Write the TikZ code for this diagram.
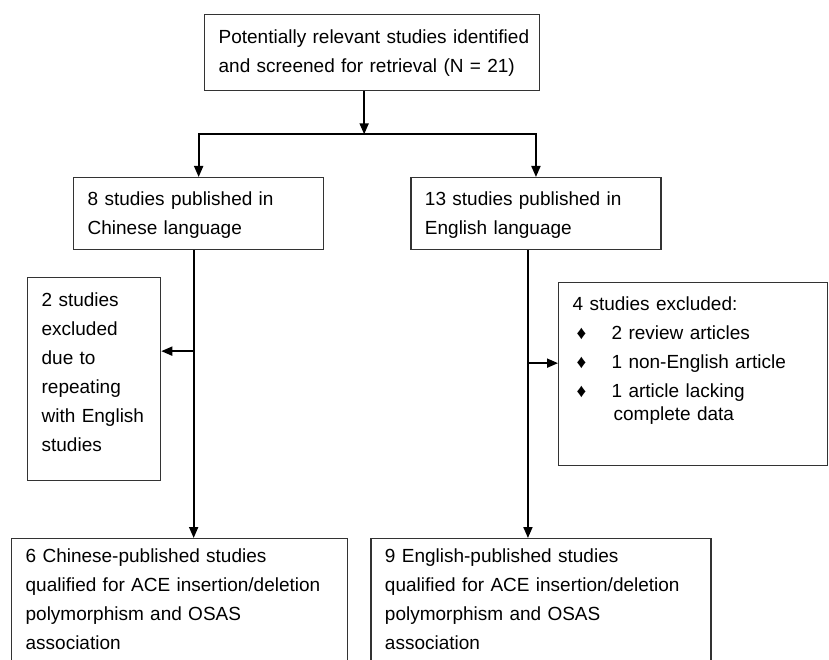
\documentclass[tikz,border=0pt]{standalone}
\usepackage{fontspec}
\setmainfont{Liberation Sans}
\usetikzlibrary{positioning,arrows.meta}
\tikzset{
  box/.style={draw=black!80, line width=1.3pt, align=left, inner xsep=14pt, inner ysep=0pt, font=\fontsize{19pt}{29pt}\selectfont, anchor=north west},
  stage box/.style={box, text width=222pt, text height=28pt, text depth=44pt},
  final box/.style={box, text height=24pt, text depth=130pt},
  exclusion box/.style={box},
  flow arrow/.style={-{Triangle[length=11pt,width=9pt]}, line width=1.8pt},
}

\begin{document}
\begin{tikzpicture}[x=1pt,y=-1pt]
\useasboundingbox (0,0) rectangle (829,660);
%the boxes
\node [box, text width=307pt, text height=29pt, text depth=47pt] at (204,14) (mA) {\mbox{Potentially relevant studies identified}\\and screened for retrieval (N = 21)};
\node [stage box] at (73,177) (mB) {8 studies published in\\Chinese language};
\node [stage box, right=86pt of mB] (mC) {13 studies published in\\English language};
\node [exclusion box, text width=105pt, text height=29pt, text depth=174pt] at (27,277) (mX1) {2 studies\\excluded\\due to\\repeating\\with English\\studies};
\node [exclusion box, text width=241pt, text height=28pt, text depth=155pt] at (558,282) (mX2) {4 studies excluded:\\
\hspace*{4pt}\makebox[35pt][l]{♦}2 review articles\\
\hspace*{4pt}\makebox[35pt][l]{♦}1 non-English article\\
\hspace*{4pt}\makebox[35pt][l]{♦}1 article lacking\\[-6pt]
\hspace*{41pt}complete data};
\node [final box, text width=308pt] at (11,538) (mD) {6 Chinese-published studies\\qualified for ACE insertion/deletion\\polymorphism and OSAS\\association};
\node [final box, text width=312pt, right=22pt of mD] (mE) {9 English-published studies\\qualified for ACE insertion/deletion\\polymorphism and OSAS\\association};
%helper points
\coordinate [below=43pt of mA.south, xshift=-8pt] (split);
\coordinate (xL) at ([xshift=-5pt]mB.south);
\coordinate (yL) at ([yshift=28pt]mX1.east);
\coordinate (xR) at ([xshift=-8pt]mC.south);
\coordinate (yR) at ([yshift=11pt]mX2.west);
%the arrows
\draw[flow arrow] (split |- mA.south) -- (split);
\draw[flow arrow] (split) -| (mB);
\draw[flow arrow] (split) -| (mC);
\draw[flow arrow] (xL) -- (xL |- mD.north);
\draw[flow arrow] (xL |- yL) -- (yL);
\draw[flow arrow] (xR) -- (xR |- mE.north);
\draw[flow arrow] (xR |- yR) -- (yR);
\end{tikzpicture}
\end{document}
